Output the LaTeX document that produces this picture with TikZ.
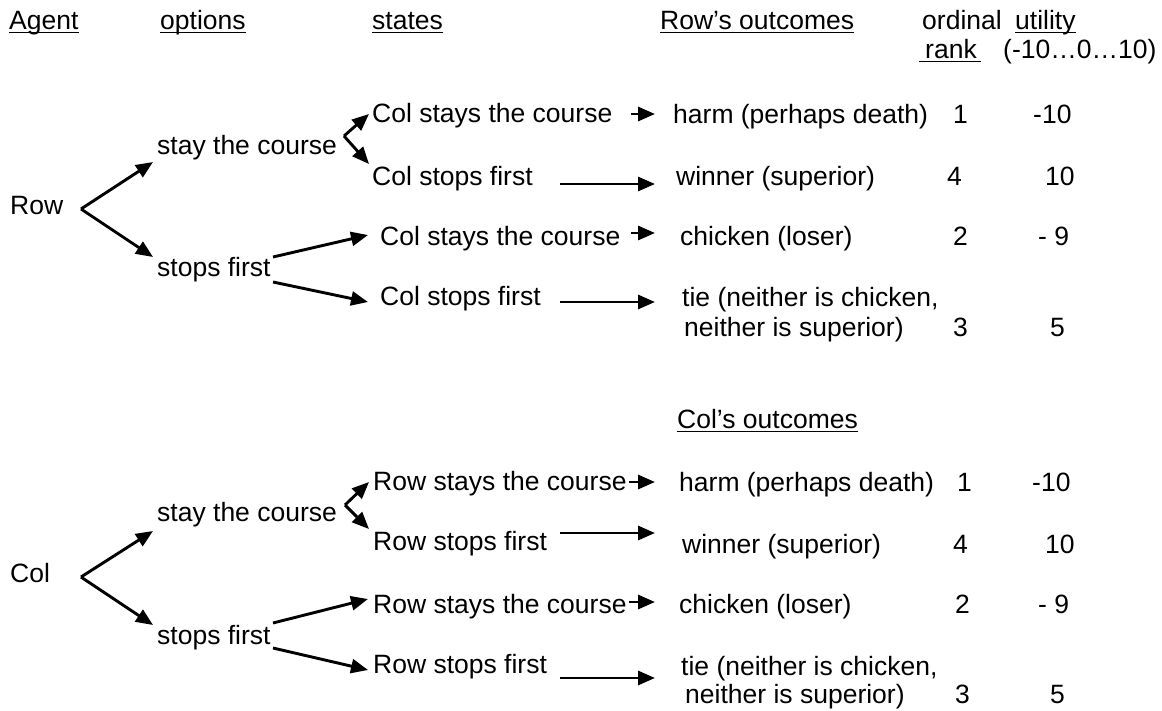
\documentclass[tikz,border=0pt]{standalone}
\usepackage{fontspec}
\setmainfont{Liberation Sans}
\usetikzlibrary{arrows.meta}
\begin{document}
\begin{tikzpicture}[x=1pt,y=-1pt,
  txt/.style={anchor=base west,inner sep=0pt,font=\fontsize{26.5}{30}\selectfont},
  arr/.style={line width=2.9pt,-{Triangle[length=17pt,width=14pt]}},
  ul/.style={line width=1.8pt}]
\useasboundingbox[fill=white] (0,0) rectangle (1162,710);

% ---------- header ----------
\node[txt] (hAgent) at (9,29) {Agent};
\node[txt] (hOpt) at (160,29) {options};
\node[txt] (hStates) at (372,29) {states};
\node[txt] (hRowOut) at (660,29) {Row’s outcomes};
\node[txt] (hOrd) at (922,29) {ordinal};
\node[txt] (hUtil) at (1015,29) {utility};
\node[txt] (hRank) at (925,58) {rank};
\node[txt] (hRange) at (1003,58) {(-10…0…10)};
\foreach \n in {hAgent,hOpt,hStates,hRowOut,hUtil}
  \draw[ul] ([yshift=-3.5pt]\n.base west) -- ([yshift=-3.5pt]\n.base east);
\draw[ul] ([xshift=-6pt,yshift=-3.5pt]hRank.base west) -- ([xshift=4pt,yshift=-3.5pt]hRank.base east);

% ---------- Row tree ----------
\node[txt] (row) at (10,214) {Row};
\coordinate (rfork) at (81,209);
\coordinate (rtipA) at (153,162);
\coordinate (rtipB) at (153,257);
\node[txt] (rStay) at (157,154) {stay the course};
\node[txt] (rStop) at (157,276) {stops first};
\draw[arr] (rfork) -- (rtipA);
\draw[arr] (rfork) -- (rtipB);

\coordinate (rsfork) at (344,136);
\coordinate (rsA) at (369,114);
\coordinate (rsB) at (369,164);
\draw[arr] (rsfork) -- (rsA);
\draw[arr] (rsfork) -- (rsB);
\coordinate (rpA) at (273,257);
\coordinate (rpAt) at (368,235);
\coordinate (rpB) at (273,282);
\coordinate (rpBt) at (368,302);
\draw[arr] (rpA) -- (rpAt);
\draw[arr] (rpB) -- (rpBt);

\node[txt] (s1) at (372,122) {Col stays the course};
\node[txt] (s2) at (372,185) {Col stops first};
\node[txt] (s3) at (380,245) {Col stays the course};
\node[txt] (s4) at (380,305) {Col stops first};

\node[txt] (o1) at (673,123) {harm (perhaps death)};
\node[txt] (o2) at (676,185) {winner (superior)};
\node[txt] (o3) at (680,245) {chicken (loser)};
\node[txt] (o4) at (682,306) {tie (neither is chicken,};
\node[txt] (o4b) at (684,336) {neither is superior)};

\coordinate (a1s) at (631,114); \coordinate (a1e) at (655,114);
\coordinate (a2s) at (560,184); \coordinate (a2e) at (655,184);
\coordinate (a3s) at (631,233); \coordinate (a3e) at (655,233);
\coordinate (a4s) at (560,302); \coordinate (a4e) at (655,302);
\draw[arr] (a1s) -- (a1e);
\draw[arr] (a2s) -- (a2e);
\draw[arr] (a3s) -- (a3e);
\draw[arr] (a4s) -- (a4e);

\node[txt] (r1) at (953,123) {1};
\node[txt] (r2) at (947,185) {4};
\node[txt] (r3) at (953,245) {2};
\node[txt] (r4) at (953,336) {3};
\node[txt] (u1) at (1033,123) {-10};
\node[txt] (u2) at (1045,185) {10};
\node[txt] (u3) at (1038,245) {- 9};
\node[txt] (u4) at (1050,336) {5};

% ---------- Col tree ----------
\node[txt] (hColOut) at (677,428) {Col’s outcomes};
\draw[ul] ([yshift=-3.5pt]hColOut.base west) -- ([yshift=-3.5pt]hColOut.base east);

\node[txt] (col) at (10,582) {Col};
\coordinate (cfork) at (81,577);
\coordinate (ctipA) at (153,531);
\coordinate (ctipB) at (153,625);
\node[txt] (cStay) at (157,521) {stay the course};
\node[txt] (cStop) at (157,644) {stops first};
\draw[arr] (cfork) -- (ctipA);
\draw[arr] (cfork) -- (ctipB);

\coordinate (csfork) at (345,505);
\coordinate (csA) at (369,482);
\coordinate (csB) at (369,529);
\draw[arr] (csfork) -- (csA);
\draw[arr] (csfork) -- (csB);
\coordinate (cpA) at (273,623);
\coordinate (cpAt) at (368,599);
\coordinate (cpB) at (273,648);
\coordinate (cpBt) at (368,670);
\draw[arr] (cpA) -- (cpAt);
\draw[arr] (cpB) -- (cpBt);

\node[txt] (t1) at (373,490) {Row stays the course};
\node[txt] (t2) at (373,550) {Row stops first};
\node[txt] (t3) at (373,613) {Row stays the course};
\node[txt] (t4) at (373,673) {Row stops first};

\node[txt] (p1) at (679,491) {harm (perhaps death)};
\node[txt] (p2) at (682,553) {winner (superior)};
\node[txt] (p3) at (679,613) {chicken (loser)};
\node[txt] (p4) at (681,675) {tie (neither is chicken,};
\node[txt] (p4b) at (685,703) {neither is superior)};

\coordinate (b1s) at (629,482); \coordinate (b1e) at (655,482);
\coordinate (b2s) at (560,533); \coordinate (b2e) at (655,533);
\coordinate (b3s) at (629,602); \coordinate (b3e) at (655,602);
\coordinate (b4s) at (560,678); \coordinate (b4e) at (655,678);
\draw[arr] (b1s) -- (b1e);
\draw[arr] (b2s) -- (b2e);
\draw[arr] (b3s) -- (b3e);
\draw[arr] (b4s) -- (b4e);

\node[txt] (q1) at (957,491) {1};
\node[txt] (q2) at (953,553) {4};
\node[txt] (q3) at (955,613) {2};
\node[txt] (q4) at (955,703) {3};
\node[txt] (v1) at (1032,491) {-10};
\node[txt] (v2) at (1045,553) {10};
\node[txt] (v3) at (1038,613) {- 9};
\node[txt] (v4) at (1050,703) {5};
\end{tikzpicture}
\end{document}
